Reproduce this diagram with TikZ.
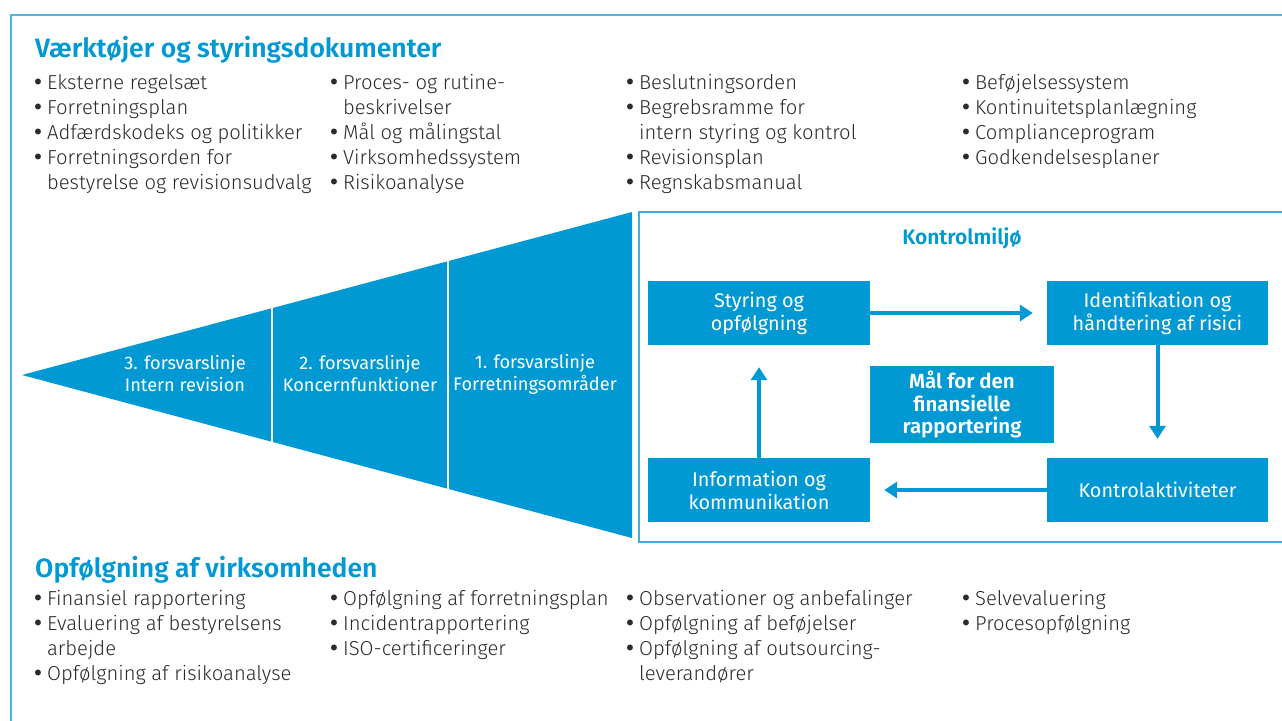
\documentclass[tikz,border=0pt]{standalone}
\usepackage{fontspec}
\setmainfont{Fira Sans}[UprightFont=* Light, BoldFont=* SemiBold]
\newfontfamily\regfont{Fira Sans}
\newfontfamily\bfont{DejaVu Sans}
\usetikzlibrary{arrows.meta}
\definecolor{dbblue}{HTML}{0099D4}
\definecolor{frameblue}{HTML}{4FB5E0}
\definecolor{txt}{HTML}{2A2A2A}
\newcommand{\bl}{{\bfont •}\hspace{3pt}}
\newcommand{\ind}{\hphantom{\bl}}
\newcommand{\fst}{\rule{0pt}{18pt}}
\tikzset{
  listcol/.style={anchor=north west, inner sep=0pt, align=left, text=txt,
    font=\fontsize{20.2}{25}\selectfont},
  sectitle/.style={anchor=base west, inner sep=0pt, text=dbblue,
    font=\bfseries\fontsize{26.5}{30}\selectfont},
  seglabel/.style={inner sep=0pt, align=center, text=white,
    font=\regfont\fontsize{18.2}{22}\selectfont},
  bluebox/.style={fill=dbblue, draw=none, inner sep=0pt, align=center, text=white,
    font=\regfont\fontsize{19.8}{23}\selectfont},
  flow/.style={draw=dbblue, line width=4pt, -{Triangle[length=13pt,width=16pt]}},
}
\begin{document}
\begin{tikzpicture}[x=1pt,y=-1pt]
\useasboundingbox (0,0) rectangle (1282,720);
\begin{scope}
\clip (0,0) rectangle (1282,720);
\draw[frameblue, line width=2pt] (11,14.5) rectangle (1300,740);
\draw[frameblue!80!dbblue, line width=2pt] (639,211.5) rectangle (1300,541.5);
\end{scope}

% Titles
\node[sectitle] (t1) at (35,57) {Værktøjer og styringsdokumenter};
\node[sectitle] (t2) at (35,577) {Opfølgning af virksomheden};

% Top lists
\node[listcol] (c1) at (32,71) {\fst\bl Eksterne regelsæt\\\bl Forretningsplan\\\bl Adfærdskodeks og politikker\\\bl Forretningsorden for\\\ind bestyrelse og revisionsudvalg};
\node[listcol] (c2) at (328,71) {\fst\bl Proces- og rutine-\\\ind beskrivelser\\\bl Mål og målingstal\\\bl Virksomhedssystem\\\bl Risikoanalyse};
\node[listcol] (c3) at (624,71) {\fst\bl Beslutningsorden\\\bl Begrebsramme for\\\ind intern styring og kontrol\\\bl Revisionsplan\\\bl Regnskabsmanual};
\node[listcol] (c4) at (960,71) {\fst\bl Beføjelsessystem\\\bl Kontinuitetsplanlægning\\\bl Complianceprogram\\\bl Godkendelsesplaner};

% Bottom lists
\node[listcol] (d1) at (32,587) {\fst\bl Finansiel rapportering\\\bl Evaluering af bestyrelsens\\\ind arbejde\\\bl Opfølgning af risikoanalyse};
\node[listcol] (d2) at (328,587) {\fst\bl Opfølgning af forretningsplan\\\bl Incidentrapportering\\\bl ISO-certificeringer};
\node[listcol] (d3) at (624,587) {\fst\bl Observationer og anbefalinger\\\bl Opfølgning af beføjelser\\\bl Opfølgning af outsourcing-\\\ind leverandører};
\node[listcol] (d4) at (960,587) {\fst\bl Selvevaluering\\\bl Procesopfølgning};

% Triangle
\fill[dbblue] (22,375) -- (632,212) -- (632,538) -- cycle;
\begin{scope}
\clip (22,375) -- (632,212) -- (632,538) -- cycle;
\draw[white, line width=2.5pt] (272,200) -- (272,550);
\draw[white, line width=2.5pt] (448,200) -- (448,550);
\end{scope}
\node[seglabel] (l3) at (185,374) {3. forsvarslinje\\Intern revision};
\node[seglabel] (l2) at (360,374) {2. forsvarslinje\\Koncernfunktioner};
\node[seglabel] (l1) at (535,374) {1. forsvarslinje\\Forretningsområder};

% Kontrolmiljø
\node[text=dbblue, font=\bfseries\fontsize{21}{24}\selectfont, inner sep=0pt] (km) at (962,238) {Kontrolmiljø};
\node[bluebox, minimum width=222pt, minimum height=64pt] (styr) at (759,313) {Styring og\\opfølgning};
\node[bluebox, minimum width=221pt, minimum height=64pt] (ident) at (1157.5,313) {Identifikation og\\håndtering af risici};
\node[bluebox, minimum width=222pt, minimum height=64pt] (info) at (759,490) {Information og\\kommunikation};
\node[bluebox, minimum width=221pt, minimum height=64pt] (kontrol) at (1157.5,490) {Kontrolaktiviteter};
\node[bluebox, minimum width=184pt, minimum height=77pt, font=\bfseries\fontsize{20.5}{22.5}\selectfont] (maal) at (962,404.5) {Mål for den\\finansielle\\rapportering};

\draw[flow, shorten >=14pt] (styr.east) -- (ident.west);
\draw[flow, shorten >=19pt] (ident.south) -- (kontrol.north);
\draw[flow, shorten >=14pt] (kontrol.west) -- (info.east);
\draw[flow, shorten >=22pt] (info.north) -- (styr.south);
\end{tikzpicture}
\end{document}
